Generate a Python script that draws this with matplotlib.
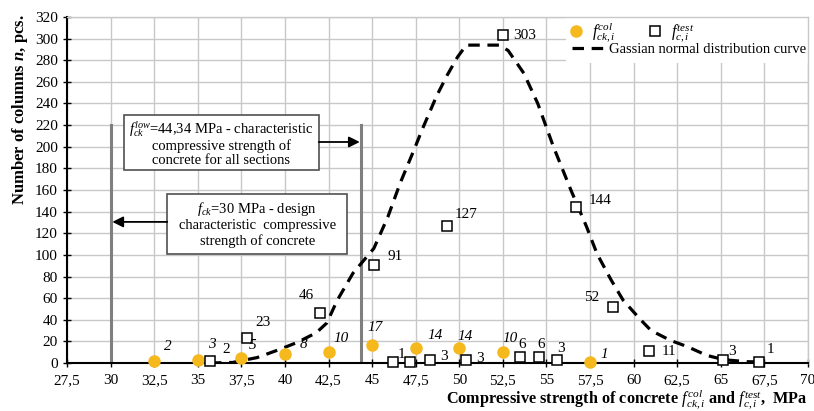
import matplotlib
matplotlib.use('Agg')
import matplotlib.pyplot as plt
from matplotlib.patches import Rectangle
from matplotlib.lines import Line2D

plt.rcParams['font.family'] = ['Liberation Serif', 'DejaVu Serif']
plt.rcParams['mathtext.fontset'] = 'custom'
plt.rcParams['mathtext.rm'] = 'Liberation Serif'
plt.rcParams['mathtext.it'] = 'Liberation Serif:italic'
plt.rcParams['mathtext.bf'] = 'Liberation Serif:bold'
plt.rcParams['mathtext.bfit'] = 'Liberation Serif:italic:bold'

# ---------------- data ----------------
col_x = [32.5, 35, 37.5, 40, 42.5, 45, 47.5, 50, 52.5, 57.5]
col_n = [2, 3, 5, 8, 10, 17, 14, 14, 10, 1]

test_x = [35.7, 37.8, 42.0, 45.1, 46.2, 47.2, 48.3, 49.3, 50.4, 52.5,
          53.5, 54.6, 55.6, 56.7, 58.8, 60.9, 65.1, 67.2]
test_n = [2, 23, 46, 91, 1, 1, 3, 127, 3, 303, 6, 6, 3, 144, 52, 11, 3, 1]
test_lbl = ['2', '23', '46', '91', '1', '', '3', '127', '3', '303',
            '6', '6', '3', '144', '52', '11', '3', '1']

curve_x = [35.7, 37.0, 38.4, 39.6, 40.7, 41.8, 42.4, 43.0, 43.9, 45.1, 45.9,
           46.6, 47.4, 47.9, 48.7, 49.3, 49.9, 50.4, 52.3, 52.8, 53.7, 54.5,
           55.4, 56.4, 57.3, 57.9, 58.7, 59.4, 60.4, 61.0, 62.1, 63.1, 64.2,
           65.2, 66.5, 67.3]
curve_n = [0, 0.5, 5, 12, 19, 28, 37, 58, 83, 106, 135, 166, 197, 217, 247,
           266, 283, 294, 294, 289, 268, 240, 200, 160, 126, 101, 77, 58, 40,
           30, 21, 15, 7, 3, 1.2, 1]

fck_design = 30.0
fck_low = 44.34
ref_line_top = 220

x_ticks = [27.5, 30, 32.5, 35, 37.5, 40, 42.5, 45, 47.5, 50, 52.5, 55,
           57.5, 60, 62.5, 65, 67.5, 70]
x_tick_labels = ['27,5', '30', '32,5', '35', '37,5', '40', '42,5', '45',
                 '47,5', '50', '52,5', '55', '57,5', '60', '62,5', '65',
                 '67,5', '70']
y_ticks = list(range(0, 321, 20))

# label offsets in points (style only)
col_off = [(10, 10), (10, 11), (8, 9), (13, 7), (9, 10), (2, 12), (14, 9),
           (4, 8), (5, 10), (10, 5)]
test_off = [(12, 8), (12, 11), (-10, 13), (15, 6), (6, 5), (0, 0), (10, 2),
            (14, 8), (10, 1), (16, 0), (1, 9), (1, 9), (3, 8), (17, 5),
            (-15, 7), (14, 0), (7, 6), (8, 9)]

YELLOW = '#F5B91E'
GRID = '#c8c8c8'

fig = plt.figure(figsize=(8.14, 4.11), dpi=100)
ax = fig.add_axes([67 / 814, 1 - 363 / 411, 741 / 814, 346 / 411])
ax.set_xlim(27.5, 70)
ax.set_ylim(0, 320)
ax.set_axisbelow(True)
ax.grid(True, color=GRID, lw=1.0)
ax.set_xticks(x_ticks)
ax.set_xticklabels(x_tick_labels)
ax.set_yticks(y_ticks)
ax.tick_params(axis='both', labelsize=11, direction='inout', length=6,
               width=1.0, colors='black')
ax.tick_params(axis='x', pad=5)
for s in ['left', 'bottom']:
    ax.spines[s].set_linewidth(1.5)
    ax.spines[s].set_color('black')
for s in ['top', 'right']:
    ax.spines[s].set_linewidth(1.0)
    ax.spines[s].set_color(GRID)

# reference vertical lines
ax.plot([fck_design, fck_design], [0, ref_line_top], color='#7f7f7f', lw=2.2, zorder=2)
ax.plot([fck_low, fck_low], [0, ref_line_top], color='#7f7f7f', lw=2.2, zorder=2)

# gaussian curve
ax.plot(curve_x, curve_n, color='black', lw=2.3, dashes=(3.6, 2.4),
        zorder=3, dash_capstyle='butt')

# markers
ax.plot(col_x, col_n, 'o', color=YELLOW, ms=8, mec=YELLOW, zorder=5, clip_on=False)
ax.plot(test_x, test_n, 's', mfc='white', mec='black', mew=1.1, ms=7.5,
        zorder=5, clip_on=False)

for x, n, (dx, dy) in zip(col_x, col_n, col_off):
    ax.annotate(str(n), (x, n), xytext=(dx, dy), textcoords='offset points',
                ha='center', va='center', fontsize=11, style='italic', zorder=6)
for x, lbl, n, (dx, dy) in zip(test_x, test_lbl, test_n, test_off):
    if lbl:
        ax.annotate(lbl, (x, n), xytext=(dx, dy), textcoords='offset points',
                    ha='center', va='center', fontsize=11, zorder=6)

# text boxes with arrows
ax.add_patch(Rectangle((30.76, 178.2), 41.94 - 30.76, 229 - 178.2,
                       fc='white', ec='#505050', lw=1.2, zorder=4))
ax.text((30.76 + 41.94) / 2, 203.6,
        '$f_{ck}^{low}$=44,34 MPa - characteristic\ncompressive strength of\nconcrete for all sections',
        ha='center', va='center', multialignment='center', fontsize=10.5,
        linespacing=1.05, zorder=4.5)
ax.add_patch(Rectangle((33.25, 100.7), 43.57 - 33.25, 156.7 - 100.7,
                       fc='white', ec='#505050', lw=1.2, zorder=4))
ax.text((33.25 + 43.57) / 2, 128.7,
        '$f_{ck}$=30 MPa - design\ncharacteristic  compressive\nstrength of concrete',
        ha='center', va='center', multialignment='center', fontsize=10.5,
        linespacing=1.15, zorder=4.5)
ax.annotate('', xy=(fck_low - 0.05, 204.4), xytext=(41.94, 204.4),
            arrowprops=dict(arrowstyle='-|>', color='black', lw=1.3,
                            mutation_scale=16, shrinkA=0, shrinkB=0), zorder=4)
ax.annotate('', xy=(fck_design + 0.1, 130.5), xytext=(33.25, 130.5),
            arrowprops=dict(arrowstyle='-|>', color='black', lw=1.3,
                            mutation_scale=16, shrinkA=0, shrinkB=0), zorder=4)

# legend
ax.add_patch(Rectangle((0.673, 0.867), 0.327, 0.133, transform=ax.transAxes,
                       fc='white', ec='none', zorder=1.5))
h1 = Line2D([], [], ls='none', marker='o', color=YELLOW, ms=8)
h2 = Line2D([], [], ls='none', marker='s', mfc='white', mec='black', mew=1.1, ms=7.5)
h3 = Line2D([], [], color='black', lw=2.3, dashes=(3.6, 2.4))
leg1 = ax.legend([h1, h2], ['$f_{ck,i}^{col}$', '$f_{c,i}^{test}$'], ncol=2,
                 loc='upper left', bbox_to_anchor=(0.676, 0.99), frameon=False,
                 fontsize=11.5, handlelength=1.0, handletextpad=0.5,
                 columnspacing=2.0, borderaxespad=0, borderpad=0)
leg1.set_zorder(7)
ax.add_artist(leg1)
leg2 = ax.legend([h3], ['Gassian normal distribution curve'], loc='upper left',
                 bbox_to_anchor=(0.681, 0.925), frameon=False, fontsize=10.5,
                 handlelength=2.3, handletextpad=0.25, borderaxespad=0,
                 borderpad=0)
leg2.set_zorder(7)

# axis labels
fig.text(808 / 814, 1 - 404 / 411,
         r'Compressive strength of concrete $f_{ck,i}^{col}$ and $f_{c,i}^{test}$,  MPa',
         ha='right', va='baseline', fontsize=11.7, fontweight='bold')
fig.text(20 / 814, 1 - 110 / 411, r'Number of columns $\mathbfit{n}$, pcs.',
         rotation=90, ha='center', va='center', fontsize=12, fontweight='bold')

fig.savefig('out.png', dpi=100)
